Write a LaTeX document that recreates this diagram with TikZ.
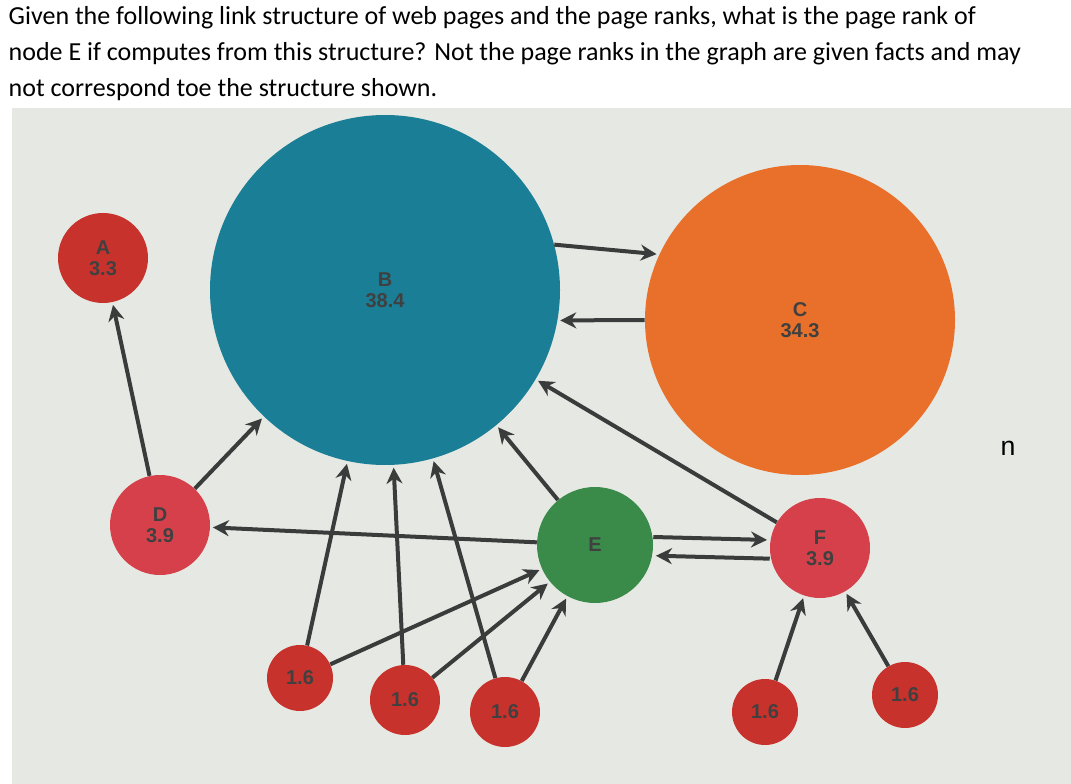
\documentclass[tikz,border=0pt]{standalone}
\usepackage{fontspec}
\setmainfont{Carlito}
\setsansfont{Liberation Sans}
\usetikzlibrary{arrows.meta}
\definecolor{bg}{HTML}{E6E9E3}
\definecolor{rd}{HTML}{C8322C}
\definecolor{rd2}{HTML}{D6404A}
\definecolor{tl}{HTML}{1A7F96}
\definecolor{og}{HTML}{E8702A}
\definecolor{gn}{HTML}{3A8A4A}
\definecolor{ed}{HTML}{3A3C3C}
\begin{document}
\begin{tikzpicture}[x=0.75pt,y=-0.75pt,
  pg/.style={circle,inner sep=0pt,font=\sffamily\bfseries\fontsize{15}{16}\selectfont,text=black!75,align=center},
  ln/.style={draw=ed,line width=3pt,-{Stealth[length=12pt,width=12pt]},shorten >=2pt},
  q/.style={anchor=west,font=\fontsize{19.5}{22}\selectfont}]
\useasboundingbox (0,0) rectangle (1071,784);
\fill[white] (0,0) rectangle (1071,784);
\node[q] (t1) at (4,18) {Given the following link structure of web pages and the page ranks, what is the page rank of};
\node[q] (t2) at (4,54) {node E if computes from this structure? Not the page ranks in the graph are given facts and may};
\node[q] (t3) at (4,90) {not correspond toe the structure shown.};
\fill[bg] (12,108) rectangle (1071,784);
\node[pg,fill=rd,minimum size=90pt*0.75] (A) at (103,258) {A\\3.3};
\node[pg,fill=tl,minimum size=350pt*0.75] (B) at (385,290) {B\\38.4};
\node[pg,fill=og,minimum size=310pt*0.75] (C) at (800,320) {C\\34.3};
\node[pg,fill=rd2,minimum size=100pt*0.75] (D) at (160,525) {D\\3.9};
\node[pg,fill=gn,minimum size=116pt*0.75] (E) at (595,545) {E};
\node[pg,fill=rd2,minimum size=100pt*0.75] (F) at (820,548) {F\\3.9};
\node[pg,fill=rd,minimum size=66pt*0.75] (s1) at (300,678) {1.6};
\node[pg,fill=rd,minimum size=70pt*0.75] (s2) at (405,700) {1.6};
\node[pg,fill=rd,minimum size=70pt*0.75] (s3) at (505,712) {1.6};
\node[pg,fill=rd,minimum size=66pt*0.75] (s4) at (765,712) {1.6};
\node[pg,fill=rd,minimum size=66pt*0.75] (s5) at (905,695) {1.6};
\node[font=\sffamily\fontsize{20}{20}\selectfont] (n) at (1008,448) {n};
\draw[ln] (D) -- (A);
\draw[ln] (D) -- (B);
\draw[ln] (E) -- (D);
\draw[ln] (B.15) -- (C.155);
\draw[ln] (C.180) -- (B.350);
\draw[ln] (F) -- (B);
\draw[ln] (E) -- (B);
\draw[ln] (s1) -- (B);
\draw[ln] (s2) -- (B);
\draw[ln] (s3) -- (B);
\draw[ln] (s1) -- (E);
\draw[ln] (s2) -- (E);
\draw[ln] (s3) -- (E);
\draw[ln] ([yshift=6pt]E.east) -- ([yshift=6pt]F.west);
\draw[ln] ([yshift=-8pt]F.west) -- ([yshift=-8pt]E.east);
\draw[ln] (s4) -- (F);
\draw[ln] (s5) -- (F);
\end{tikzpicture}
\end{document}
